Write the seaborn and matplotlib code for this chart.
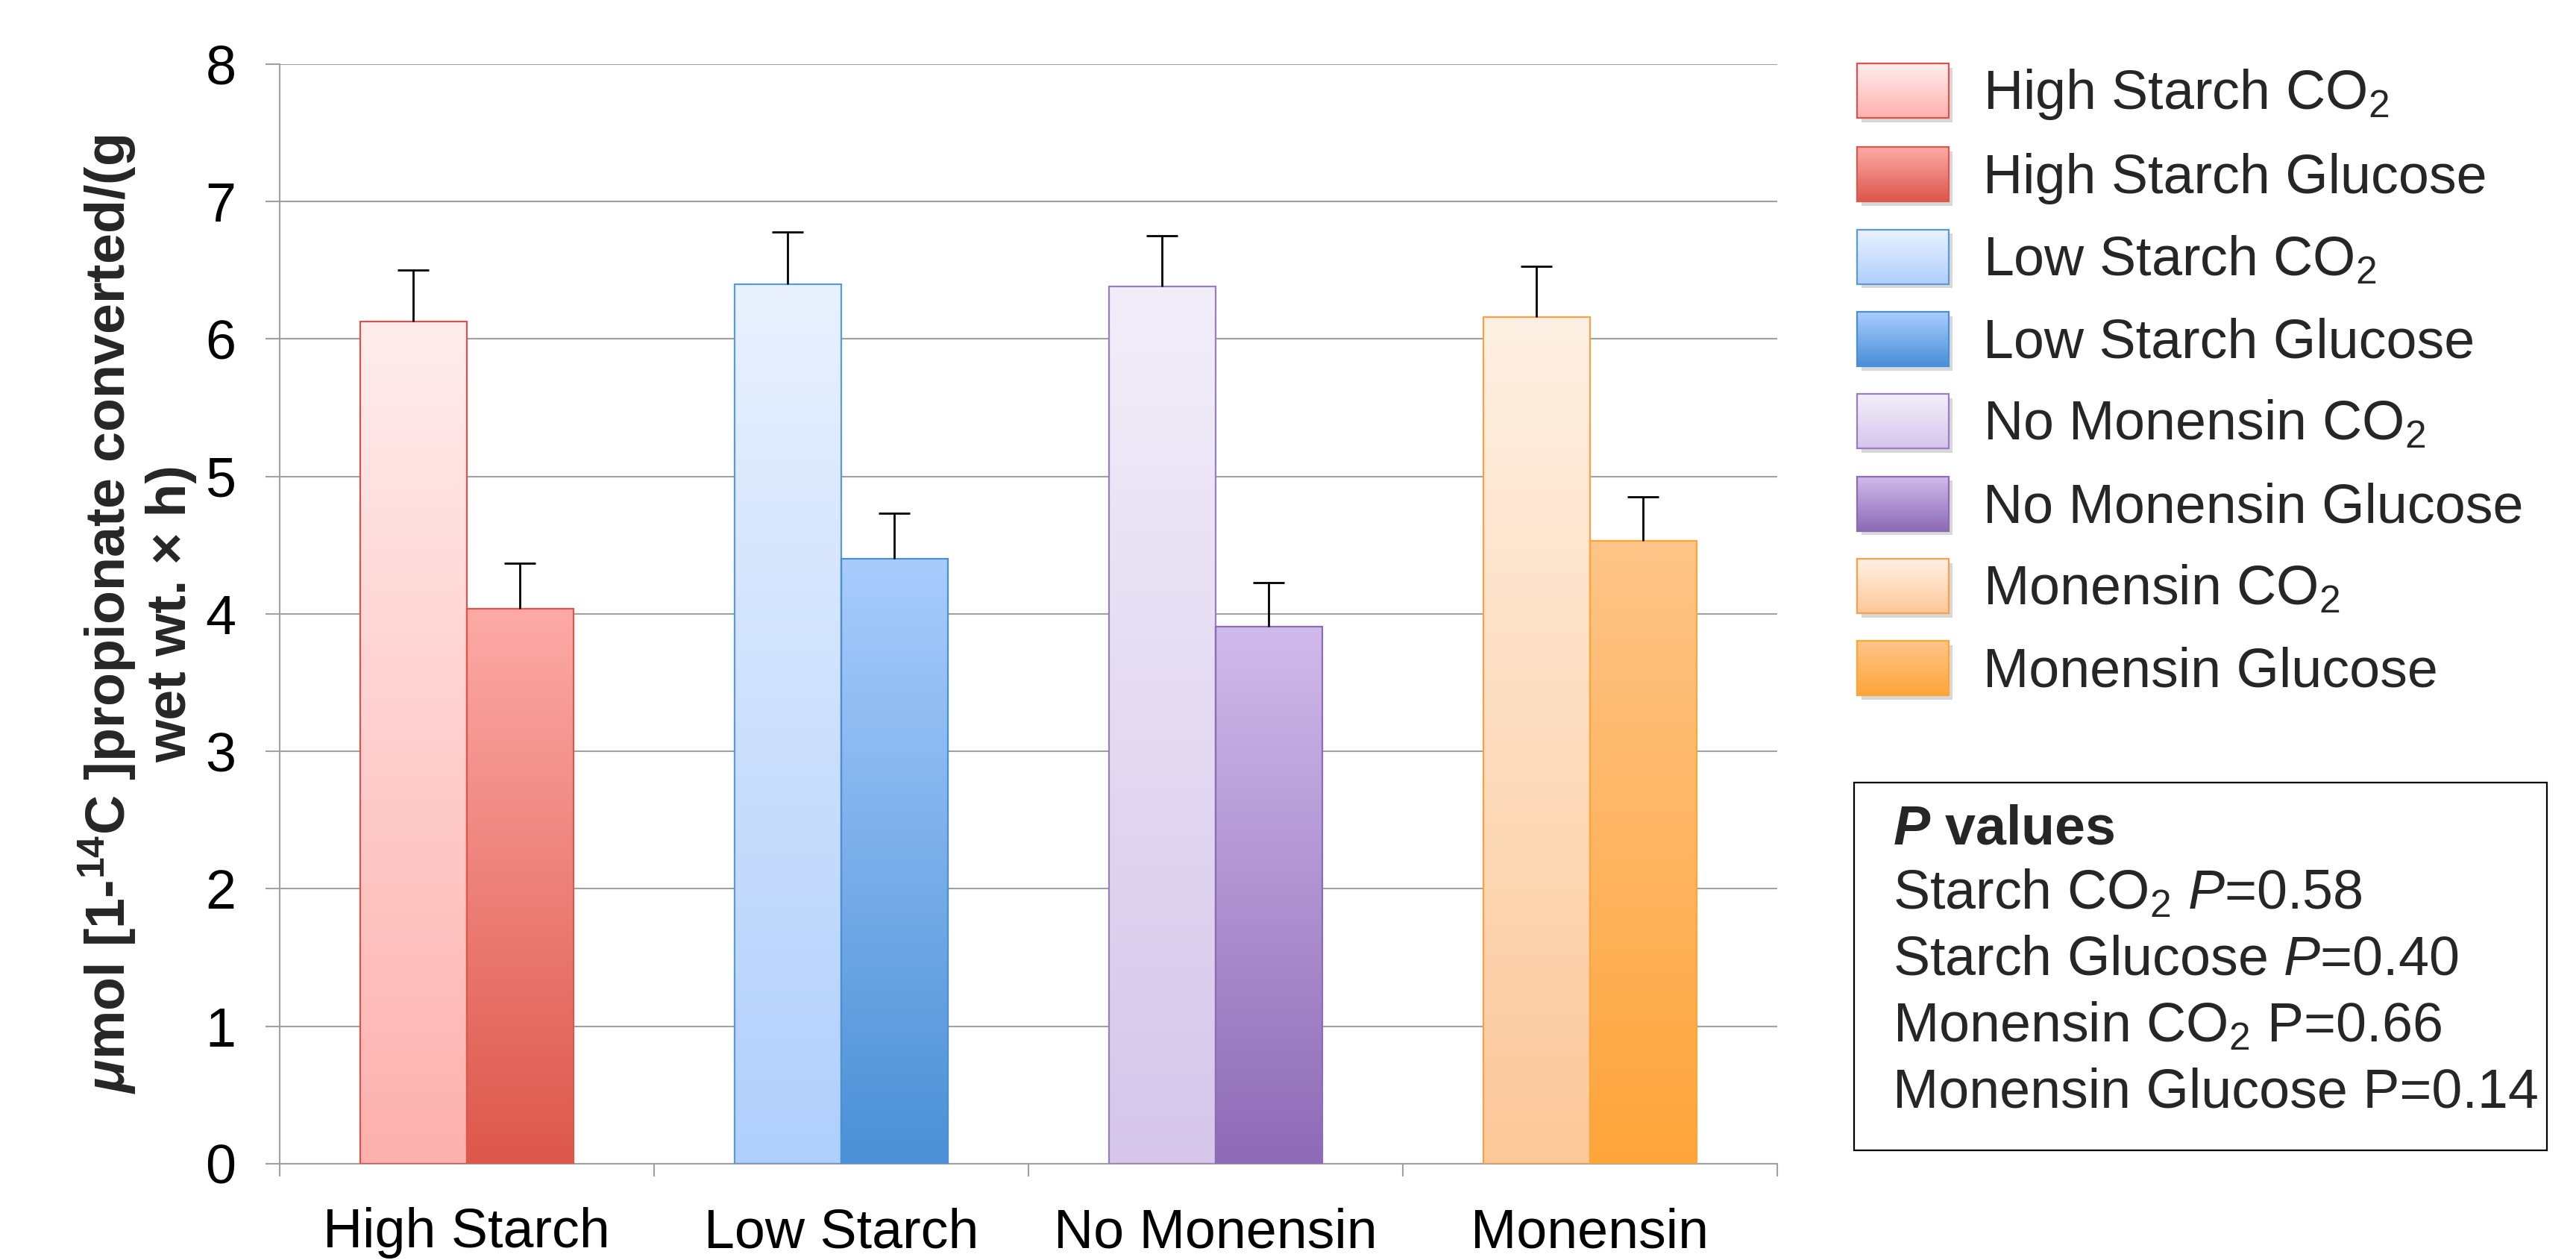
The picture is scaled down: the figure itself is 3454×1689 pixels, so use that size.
import numpy as np
import pandas as pd
import matplotlib
matplotlib.use("Agg")
import matplotlib.pyplot as plt
import seaborn as sns
from matplotlib.colors import to_rgb
from matplotlib.legend_handler import HandlerBase
from matplotlib.patches import Rectangle

# data
categories = ["High Starch", "Low Starch", "No Monensin", "Monensin"]
gases = ["CO2", "Glucose"]
co2_values = [6.13, 6.40, 6.38, 6.16]
glucose_values = [4.04, 4.40, 3.91, 4.53]
co2_err = [0.37, 0.38, 0.37, 0.37]
glucose_err = [0.33, 0.33, 0.32, 0.32]

legend_labels = [
    "High Starch CO$_2$", "High Starch Glucose",
    "Low Starch CO$_2$", "Low Starch Glucose",
    "No Monensin CO$_2$", "No Monensin Glucose",
    "Monensin CO$_2$", "Monensin Glucose",
]
p_title = r"$\mathbfit{P}$ values"
p_lines = [
    r"Starch CO$_2$ $\mathit{P}$=0.58",
    r"Starch Glucose $\mathit{P}$=0.40",
    r"Monensin CO$_2$ P=0.66",
    r"Monensin Glucose P=0.14",
]

# (top, bottom, edge) gradient colours
co2_colors = [
    ("#FFEDED", "#FDB1AE", "#D9534F"),
    ("#E9F1FE", "#B0CFFC", "#5B9BD5"),
    ("#F2EEF9", "#D5C6EA", "#9A7DC0"),
    ("#FEF0E3", "#FCC899", "#F8A04A"),
]
glucose_colors = [
    ("#FDAAA7", "#DD574B", "#DD574B"),
    ("#A9CCFD", "#4A90D6", "#4A90D6"),
    ("#D0BAEB", "#8D6BB6", "#8D6BB6"),
    ("#FEC588", "#FEA53A", "#FEA53A"),
]

sns.set_theme(style="white")
plt.rcParams["font.family"] = ["Liberation Sans", "DejaVu Sans"]
plt.rcParams["mathtext.fontset"] = "custom"
plt.rcParams["mathtext.rm"] = "Liberation Sans"
plt.rcParams["mathtext.it"] = "Liberation Sans:italic"
plt.rcParams["mathtext.bf"] = "Liberation Sans:bold"
plt.rcParams["mathtext.bfit"] = "Liberation Sans:bold:italic"

FS = 53

df = pd.DataFrame({
    "category": categories * 2,
    "gas": [gases[0]] * 4 + [gases[1]] * 4,
    "value": co2_values + glucose_values,
})

fig = plt.figure(figsize=(34.55, 16.89), dpi=100)
ax = fig.add_axes([0.1085, 0.0764, 0.5812, 0.8727])

sns.barplot(data=df, x="category", y="value", hue="gas", hue_order=gases,
            width=0.57, errorbar=None, legend=False, ax=ax)


def gradient(top, bottom, n=256):
    t = np.linspace(0, 1, n)[:, None]
    a = np.array(to_rgb(top))
    b = np.array(to_rgb(bottom))
    return (a * (1 - t) + b * t)[:, None, :]


color_sets = [co2_colors, glucose_colors]
errs = [co2_err, glucose_err]
bar_containers = list(ax.containers)
for h, cont in enumerate(bar_containers):
    xs, ys = [], []
    for i, p in enumerate(cont):
        top, bottom, edge = color_sets[h][i]
        x0, w, hgt = p.get_x(), p.get_width(), p.get_height()
        p.set_facecolor("none")
        p.set_edgecolor(edge)
        p.set_linewidth(1.6)
        p.set_zorder(3)
        im = ax.imshow(gradient(top, bottom), extent=(x0, x0 + w, 0, hgt),
                       aspect="auto", origin="upper", zorder=2.5)
        im.set_clip_path(p)
        xs.append(x0 + w / 2)
        ys.append(hgt)
    eb = ax.errorbar(xs, ys, yerr=[np.zeros(len(ys)), errs[h]], fmt="none",
                     ecolor="black", elinewidth=2.0, capsize=15, capthick=2.0,
                     zorder=4)
    caps = eb[1]
    caps[0].set_visible(False)

ax.set_xlim(-0.5, 3.5)
ax.set_ylim(0, 8)
ax.set_yticks(range(0, 9))
ax.set_axisbelow(True)
ax.yaxis.grid(True, color="#A0A0A0", linewidth=1.5)
ax.xaxis.grid(False)
for s in ["top", "right"]:
    ax.spines[s].set_visible(False)
for s in ["left", "bottom"]:
    ax.spines[s].set_color("#A0A0A0")
    ax.spines[s].set_linewidth(1.5)

ax.set_xticks([0.5 * k - 0.5 for k in range(0, 9, 2)], minor=True)
ax.tick_params(axis="x", which="major", length=0, pad=42, labelsize=FS,
               labelcolor="black")
ax.tick_params(axis="x", which="minor", bottom=True, length=12, width=1.5,
               color="#A0A0A0", direction="out")
ax.tick_params(axis="y", which="major", left=True, length=14, width=1.5,
               color="#A0A0A0", pad=28, labelsize=FS, labelcolor="black")
ax.set_xlabel("")
ax.set_ylabel(r"$\mathbfit{\mu}$mol [1-$^{\mathbf{14}}$C ]propionate converted/(g"
              "\nwet wt. × h)", fontsize=53, fontweight="bold",
              linespacing=1.2)
ax.yaxis.set_label_coords(-0.055, 0.50)


class GradBox:
    def __init__(self, top, bottom, edge):
        self.top, self.bottom, self.edge = top, bottom, edge


class GradHandler(HandlerBase):
    def create_artists(self, legend, orig, xdescent, ydescent, width, height,
                       fontsize, trans):
        arts = []
        n = 30
        a = np.array(to_rgb(orig.top))
        b = np.array(to_rgb(orig.bottom))
        x0, y0 = -xdescent, -ydescent
        arts.append(Rectangle((x0 + 4, y0 - 4), width, height,
                              facecolor="#D8D8D8", edgecolor="none",
                              transform=trans))
        for k in range(n):
            t = k / (n - 1)
            c = a * (1 - t) + b * t
            yk = y0 + height - (k + 1) * height / n
            arts.append(Rectangle((x0, yk), width, height / n + 0.5,
                                  facecolor=c, edgecolor="none",
                                  transform=trans))
        arts.append(Rectangle((x0, y0), width, height, facecolor="none",
                              edgecolor=orig.edge, linewidth=1.6,
                              transform=trans))
        return arts


handles = []
for i in range(4):
    handles.append(GradBox(*co2_colors[i]))
    handles.append(GradBox(*glucose_colors[i]))

fig.legend(handles, legend_labels, handler_map={GradBox: GradHandler()},
           loc="upper left", bbox_to_anchor=(2490 / 3455, 1 - 85 / 1689),
           frameon=False, fontsize=FS, borderpad=0, borderaxespad=0,
           handlelength=1.67, handleheight=1.15, handletextpad=0.62,
           labelspacing=0.46)

# P values box
box = Rectangle((2486 / 3455, 1 - 1542 / 1689), (3415 - 2486) / 3455,
                (1542 - 1049) / 1689, transform=fig.transFigure,
                facecolor="white", edgecolor="black", linewidth=1.6)
fig.patches.append(box)
fig.text(2538 / 3455, 1 - 1112 / 1689, p_title, fontsize=FS,
         fontweight="bold", va="center", ha="left")
for k, line in enumerate(p_lines):
    fig.text(2538 / 3455, 1 - (1198 + 89 * k) / 1689, line, fontsize=FS,
             va="center", ha="left")

fig.savefig("out.png", dpi=100)
